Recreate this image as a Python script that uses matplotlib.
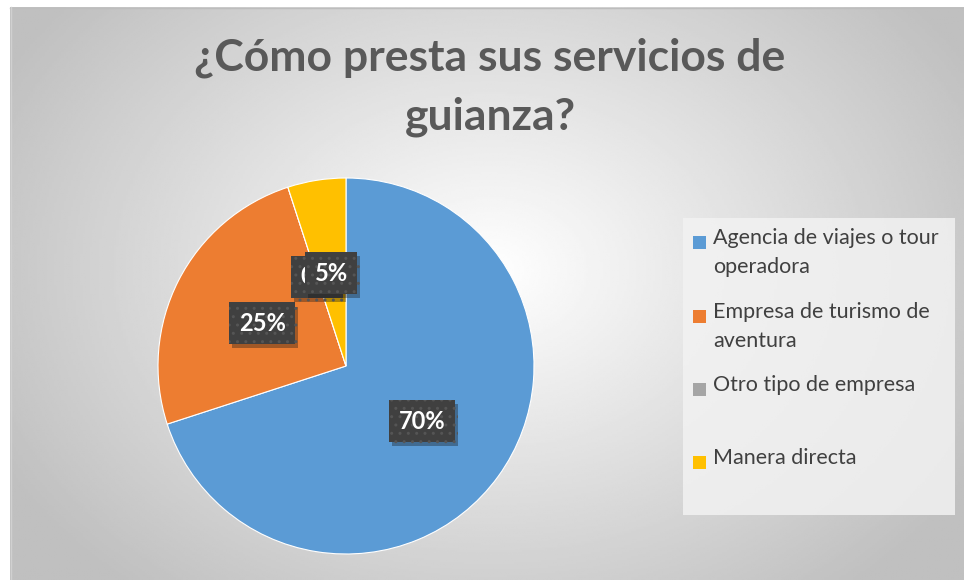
import numpy as np
import matplotlib.pyplot as plt
import matplotlib.patheffects as pe
from matplotlib.patches import Rectangle

# datos
categorias = ["Agencia de viajes o tour\noperadora", "Empresa de turismo de\naventura",
              "Otro tipo de empresa", "Manera directa"]
valores = [70, 25, 0, 5]
colores = ["#5B9BD5", "#ED7D31", "#A5A5A5", "#FFC000"]
titulo = "¿Cómo presta sus servicios de\nguianza?"

W, H = 964, 580
plt.rcParams['font.family'] = ['Lato', 'DejaVu Sans']
fig = plt.figure(figsize=(W / 100, H / 100), dpi=100)

# fondo con degradado radial
bg = fig.add_axes([0, 0, 1, 1])
bg.set_xlim(0, W)
bg.set_ylim(H, 0)
bg.axis('off')
x0, y0 = 10, 7
xx, yy = np.meshgrid(np.linspace(x0, W, 400), np.linspace(y0, H, 300))
cx, cy = 490, 270
r = np.sqrt(((xx - cx) / 560) ** 2 + ((yy - cy) / 420) ** 2)
r = np.clip(r, 0, 1)
g = 1.0 - 0.25 * r
bg.imshow(g, cmap='gray', vmin=0, vmax=1, extent=(x0, W, H, y0), aspect='auto', zorder=0)
bg.plot([x0, W], [y0 + 0.5, y0 + 0.5], color='#bdbdbd', lw=1, zorder=1)
bg.plot([x0 + 0.5, x0 + 0.5], [y0, H], color='#d0d0d0', lw=1, zorder=1)

# caja de leyenda
bg.add_patch(Rectangle((683, 218), 272, 297, facecolor='#f2f2f2', edgecolor='none', alpha=0.85, zorder=1))

# titulo
fig.text(490 / W, 1 - 38 / H, titulo, ha='center', va='top', fontsize=32, fontweight='bold',
         color='#595959', linespacing=1.55)

# pastel
cxp, cyp, rad = 346, 366, 188
ax = fig.add_axes([(cxp - rad) / W, (H - cyp - rad) / H, 2 * rad / W, 2 * rad / H])
ax.patch.set_visible(False)
wedges, _, autotexts = ax.pie(valores, colors=colores, startangle=90, counterclock=False,
                              autopct='%1.0f%%', pctdistance=0.5,
                              wedgeprops=dict(edgecolor='white', linewidth=0.8),
                              textprops=dict(color='white', fontsize=17, fontweight='bold'))
ax.set_xlim(-1, 1)
ax.set_ylim(-1, 1)
for t in autotexts:
    t.set_bbox(dict(boxstyle='square,pad=0.4', facecolor='#404040', edgecolor='#555555',
                    linewidth=0, hatch='..'))
    t.get_bbox_patch().set_path_effects([pe.withSimplePatchShadow(offset=(2, -3), alpha=0.35),
                                         pe.Normal()])

# leyenda
ys = [242, 316, 389, 462]
for lab, col, yc in zip(categorias, colores, ys):
    bg.add_patch(Rectangle((693, yc - 6.5), 13, 13, facecolor=col, edgecolor='none', zorder=2))
    bg.text(713, yc - 14, lab, ha='left', va='top', fontsize=15.5, color='#404040',
            linespacing=1.55, zorder=2)

fig.savefig('out.png', dpi=100)
